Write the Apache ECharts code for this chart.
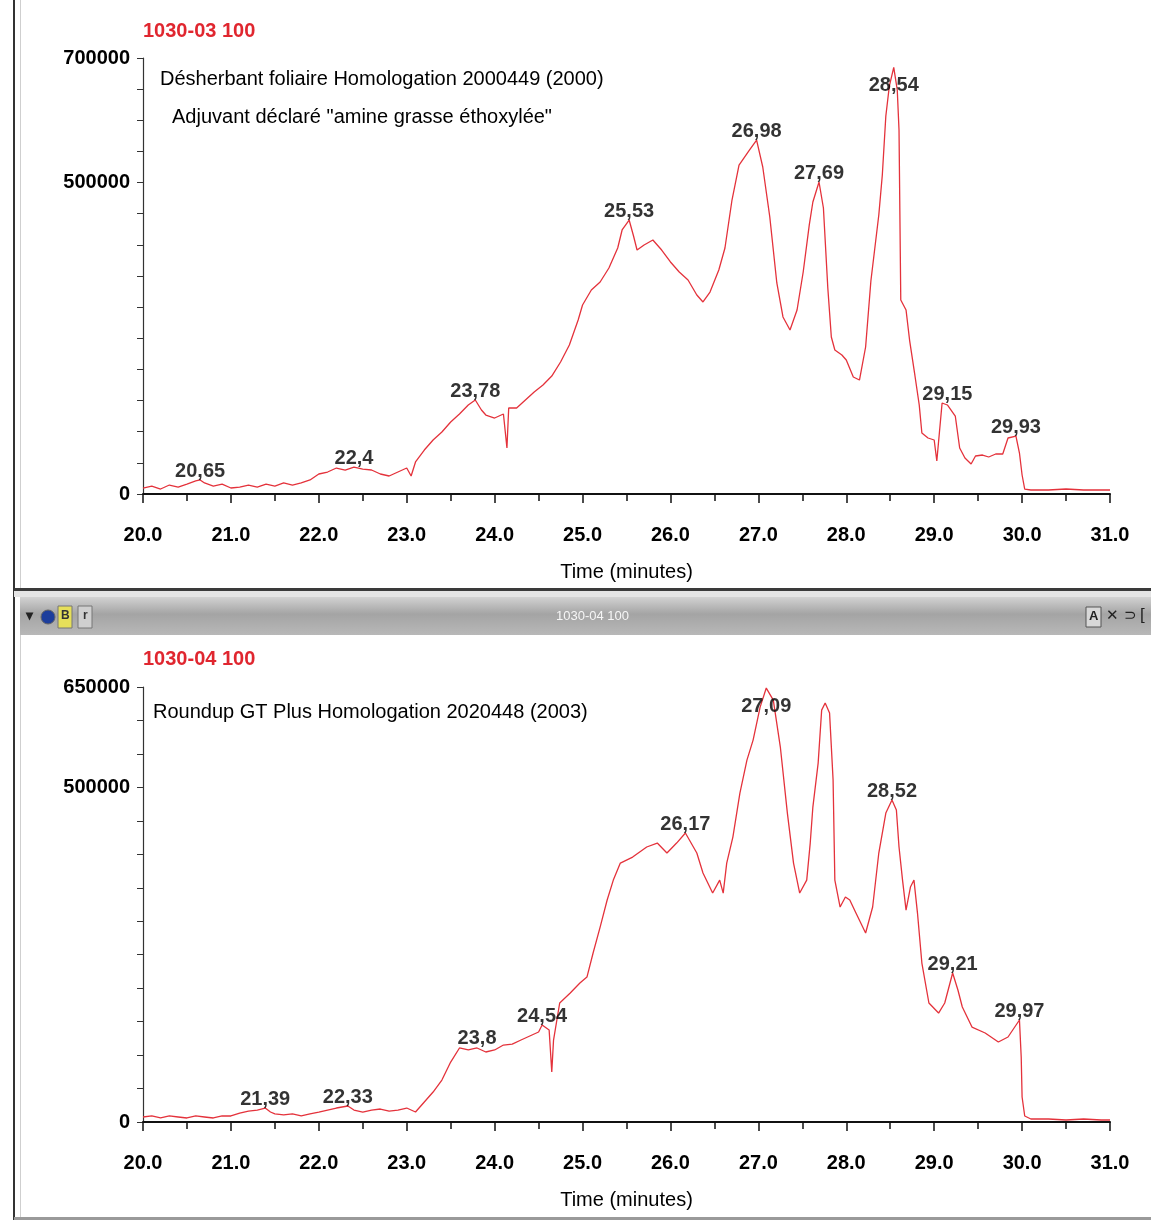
<!DOCTYPE html>
<html>
<head>
<meta charset="utf-8">
<script src="https://cdn.jsdelivr.net/npm/echarts@6/dist/echarts.min.js"></script>
<style>
  html, body { margin: 0; padding: 0; background: #ffffff; }
  #chart { width: 1151px; height: 1220px; }
</style>
</head>
<body>
<div id="chart"></div>
<script>
// ---------- DATA ----------
var xTickLabels = ['20.0','21.0','22.0','23.0','24.0','25.0','26.0','27.0','28.0','29.0','30.0','31.0'];

// Top chromatogram (1030-03 100)
var topTimes = [20.0,20.1,20.2,20.3,20.4,20.5,20.6,20.65,20.7,20.8,20.9,
  21.0,21.1,21.2,21.3,21.4,21.5,21.6,21.7,21.8,21.9,
  22.0,22.1,22.2,22.3,22.4,22.5,22.6,22.7,22.8,22.9,
  23.0,23.05,23.1,23.2,23.3,23.4,23.5,23.6,23.7,23.78,23.85,23.9,
  24.0,24.1,24.14,24.16,24.25,24.35,24.45,24.55,24.65,24.75,24.85,24.95,
  25.0,25.1,25.2,25.3,25.4,25.45,25.53,25.58,25.62,25.7,25.8,25.9,
  26.0,26.1,26.2,26.3,26.37,26.45,26.55,26.62,26.7,26.78,26.9,26.98,
  27.05,27.13,27.21,27.28,27.36,27.44,27.51,27.58,27.62,27.69,27.74,27.79,27.83,27.87,27.95,
  28.0,28.08,28.15,28.22,28.28,28.37,28.41,28.45,28.49,28.54,28.58,28.6,28.62,28.68,28.72,28.78,28.83,28.86,28.93,
  29.0,29.03,29.09,29.15,29.24,29.29,29.35,29.42,29.47,29.55,29.62,29.7,29.78,29.84,29.93,29.97,
  30.0,30.03,30.1,30.3,30.5,30.7,30.9,31.0];
var topValues = [9600,12800,8000,14400,11200,16000,20900,22500,17700,12800,16000,
  9600,11200,14400,11200,16000,12800,17700,14400,17700,22500,
  32100,35300,41700,38500,43300,40100,38500,32100,28900,35300,
  41700,28900,51400,70600,86700,99500,115600,128400,142900,150900,134900,126800,
  122000,128400,73900,138100,138100,150900,163800,175000,189400,211900,239200,279400,
  303400,327500,340400,362800,395000,423900,439900,414200,391700,399800,407800,391700,
  372500,356400,343600,319500,308300,324300,359600,395000,472000,528200,552300,568300,
  525000,444700,338800,284200,263300,295400,356400,432900,468800,500900,459200,330700,252100,231200,223200,
  215100,187800,183000,236000,342000,447900,512200,606900,655000,685000,648600,584400,311500,295400,247200,191100,142900,97900,89900,
  86700,53000,146100,142900,125200,73900,57800,48200,61000,62600,59400,64200,64200,89900,93100,65800,
  30500,8000,6400,6400,8000,6400,6400,6400];
var topPeakTimes = [20.65,22.4,23.78,25.53,26.98,27.69,28.54,29.15,29.93];
var topPeakValues = [22500,43300,150900,439900,568300,500900,685000,146100,93100];
var topPeakLabels = ['20,65','22,4','23,78','25,53','26,98','27,69','28,54','29,15','29,93'];
var topYMax = 700000;
var topYLabels = [0, 500000, 700000];

// Bottom chromatogram (1030-04 100)
var botTimes = [20.0,20.1,20.2,20.3,20.4,20.5,20.6,20.7,20.8,20.9,21.0,
  21.1,21.2,21.3,21.39,21.45,21.5,21.6,21.7,21.8,21.9,
  22.0,22.1,22.2,22.33,22.4,22.5,22.6,22.7,22.8,22.9,
  23.0,23.1,23.2,23.3,23.4,23.5,23.6,23.7,23.8,23.9,
  24.0,24.1,24.2,24.3,24.4,24.5,24.54,24.62,24.65,24.67,24.74,24.86,24.97,
  25.05,25.12,25.2,25.28,25.35,25.43,25.57,25.73,25.85,25.96,
  26.07,26.17,26.3,26.37,26.48,26.56,26.6,26.64,26.71,26.79,26.87,26.94,
  27.02,27.09,27.17,27.25,27.33,27.4,27.47,27.55,27.59,27.62,27.68,27.72,27.76,27.81,27.85,27.87,27.93,27.99,
  28.04,28.11,28.22,28.3,28.37,28.45,28.52,28.57,28.6,28.64,28.68,28.73,28.77,28.81,28.86,28.94,
  29.05,29.12,29.21,29.27,29.32,29.43,29.58,29.73,29.84,29.97,29.99,
  30.0,30.03,30.1,30.3,30.5,30.7,30.9,31.0];
var botValues = [7500,9000,6000,9000,7500,6000,9000,7500,6000,9000,9000,
  13400,16400,17900,20900,14900,12000,10500,12000,9000,12000,
  14900,17900,20900,23900,17900,14900,17900,19400,16400,17900,
  20900,14900,29900,44800,62700,89600,110600,107600,110600,104600,
  107600,115000,116500,122500,128500,134500,144900,137400,74700,122500,177800,192700,207700,
  216600,252500,291300,331700,361500,386900,395900,410900,416800,401900,
  416800,431800,401900,372000,342100,361500,342100,386900,425800,491500,540800,570700,
  620000,648400,630500,560300,461600,386900,342100,361500,416800,470600,536300,615500,626000,611000,510900,361500,321200,336200,
  331700,312200,282400,321200,401900,461600,481100,466100,410900,361500,316700,351100,361500,312200,237500,177800,
  162800,177800,222600,197200,171800,141900,133000,119500,127000,152400,97100,
  37400,9000,4500,4500,3000,4500,3000,3000];
var botPeakTimes = [21.39,22.33,23.8,24.54,26.17,27.09,28.52,29.21,29.97];
var botPeakValues = [20900,23900,110600,144900,431800,648400,481100,222600,152400];
var botPeakLabels = ['21,39','22,33','23,8','24,54','26,17','27,09','28,52','29,21','29,97'];
var botYMax = 650000;
var botYLabels = [0, 500000, 650000];

var panelIds = ['1030-03 100', '1030-04 100'];
var topNotes = ['Désherbant foliaire Homologation 2000449 (2000)', 'Adjuvant déclaré "amine grasse éthoxylée"'];
var botNotes = ['Roundup GT Plus Homologation 2020448 (2003)'];
var xAxisTitle = 'Time (minutes)';

// ---------- BUILD ----------
var FONT = '"Liberation Sans", Arial, sans-serif';
var FS = 20;
var RED = '#e0262f';
var TRACE = '#e4323b';
var INK = '#000000';

function zip(a, b) { return a.map(function (v, i) { return [v, b[i]]; }); }

function xAxisCfg(idx) {
  return {
    type: 'value', gridIndex: idx, min: 20, max: 31, interval: 1,
    name: xAxisTitle, nameLocation: 'middle', nameGap: 68,
    nameTextStyle: { fontFamily: FONT, fontSize: FS, color: INK },
    axisLine: { lineStyle: { color: '#111', width: 2 } },
    axisTick: { show: true, length: 9, lineStyle: { color: '#111', width: 1.5 } },
    minorTick: { show: true, splitNumber: 2, length: 7, lineStyle: { color: '#111', width: 1.5 } },
    splitLine: { show: false },
    axisLabel: {
      margin: 31, fontFamily: FONT, fontSize: FS, fontWeight: 'bold', color: INK,
      formatter: function (v) { return xTickLabels[Math.round(v - 20)]; }
    }
  };
}
function yAxisCfg(idx, max, shown) {
  return {
    type: 'value', gridIndex: idx, min: 0, max: max, interval: 50000,
    axisLine: { show: true, lineStyle: { color: '#333', width: 1.2 } },
    axisTick: { show: true, length: 6, lineStyle: { color: '#333' } },
    splitLine: { show: false },
    axisLabel: {
      margin: 13, fontFamily: FONT, fontSize: FS, fontWeight: 'bold', color: INK,
      formatter: function (v) { return shown.indexOf(v) >= 0 ? String(v) : ''; }
    }
  };
}
function peakSeries(idx, times, values, labels, max) {
  return {
    type: 'scatter', xAxisIndex: idx, yAxisIndex: idx, symbolSize: 0, silent: true, z: 5,
    data: times.map(function (t, i) {
      var high = values[i] > 0.9 * max;
      return {
        value: [t, values[i]],
        label: high ? { position: 'inside', offset: [0, 18] } : { position: 'top', distance: -1 }
      };
    }),
    label: {
      show: true, fontFamily: FONT, fontSize: FS, fontWeight: 'bold', color: INK,
      formatter: function (p) { return labels[p.dataIndex]; }
    }
  };
}
function traceSeries(idx, times, values) {
  return {
    type: 'line', xAxisIndex: idx, yAxisIndex: idx, showSymbol: false, symbol: 'none',
    data: zip(times, values), silent: true,
    lineStyle: { color: TRACE, width: 1.3 }
  };
}

var txt = function (text, left, top, color, weight) {
  return { type: 'text', left: left, top: top, silent: true,
    style: { text: text, fill: color, font: (weight || 'normal') + ' ' + FS + 'px ' + FONT } };
};

var graphics = [
  { type: 'rect', shape: { x: 13, y: 0, width: 2, height: 1220 }, style: { fill: '#333' }, silent: true },
  { type: 'rect', shape: { x: 20, y: 0, width: 1, height: 1220 }, style: { fill: '#cfcfcf' }, silent: true },
  // separator + toolbar
  { type: 'rect', shape: { x: 14, y: 588, width: 1137, height: 3 }, style: { fill: '#3a3a3a' }, silent: true },
  { type: 'rect', shape: { x: 14, y: 591, width: 1137, height: 6 }, style: { fill: '#e4e4e4' }, silent: true },
  { type: 'rect', shape: { x: 20, y: 597, width: 1131, height: 38 }, silent: true,
    style: { fill: new echarts.graphic.LinearGradient(0, 0, 0, 1, [
      { offset: 0, color: '#d2d2d2' }, { offset: 0.45, color: '#a4a4a4' }, { offset: 1, color: '#b8b8b8' }]) } },
  { type: 'text', left: 26, top: 609, silent: true, style: { text: '▾', fill: '#222', font: 'bold 14px sans-serif' } },
  { type: 'circle', shape: { cx: 48, cy: 617, r: 7 }, style: { fill: '#1d3e9c', stroke: '#666' }, silent: true },
  { type: 'rect', shape: { x: 58, y: 606, width: 14, height: 22 }, style: { fill: '#e6df5a', stroke: '#777' }, silent: true },
  { type: 'text', left: 61, top: 610, silent: true, style: { text: 'B', fill: '#333', font: 'bold 12px sans-serif' } },
  { type: 'rect', shape: { x: 78, y: 606, width: 14, height: 22 }, style: { fill: '#cfcfcf', stroke: '#777' }, silent: true },
  { type: 'text', left: 83, top: 610, silent: true, style: { text: 'r', fill: '#333', font: 'bold 12px sans-serif' } },
  { type: 'text', left: 556, top: 610, silent: true,
    style: { text: panelIds[1], fill: '#f6f6f6', font: '13px ' + FONT } },
  { type: 'rect', shape: { x: 1086, y: 607, width: 15, height: 20 }, style: { fill: '#d8d8d8', stroke: '#555' }, silent: true },
  { type: 'text', left: 1089, top: 610, silent: true, style: { text: 'A', fill: '#222', font: 'bold 13px sans-serif' } },
  { type: 'text', left: 1106, top: 608, silent: true, style: { text: '✕', fill: '#222', font: '15px sans-serif' } },
  { type: 'text', left: 1124, top: 608, silent: true, style: { text: '⊃', fill: '#222', font: '15px sans-serif' } },
  { type: 'text', left: 1140, top: 607, silent: true, style: { text: '[', fill: '#222', font: '17px sans-serif' } },
  { type: 'rect', shape: { x: 14, y: 1217, width: 1137, height: 3 }, style: { fill: '#9a9a9a' }, silent: true },
  // texts
  txt(panelIds[0], 143, 21, RED, 'bold'),
  txt(topNotes[0], 160, 69, INK),
  txt(topNotes[1], 172, 107, INK),
  txt(panelIds[1], 143, 649, RED, 'bold'),
  txt(botNotes[0], 153, 702, INK)
];

var option = {
  backgroundColor: '#ffffff',
  animation: false,
  grid: [
    { left: 143, right: 41, top: 58, height: 436 },
    { left: 143, right: 41, top: 687, height: 435 }
  ],
  xAxis: [xAxisCfg(0), xAxisCfg(1)],
  yAxis: [yAxisCfg(0, topYMax, topYLabels), yAxisCfg(1, botYMax, botYLabels)],
  series: [
    traceSeries(0, topTimes, topValues),
    traceSeries(1, botTimes, botValues),
    peakSeries(0, topPeakTimes, topPeakValues, topPeakLabels, topYMax),
    peakSeries(1, botPeakTimes, botPeakValues, botPeakLabels, botYMax)
  ],
  graphic: graphics
};

var chart = echarts.init(document.getElementById('chart'), null, { renderer: 'canvas' });
chart.setOption(option);
</script>
</body>
</html>
